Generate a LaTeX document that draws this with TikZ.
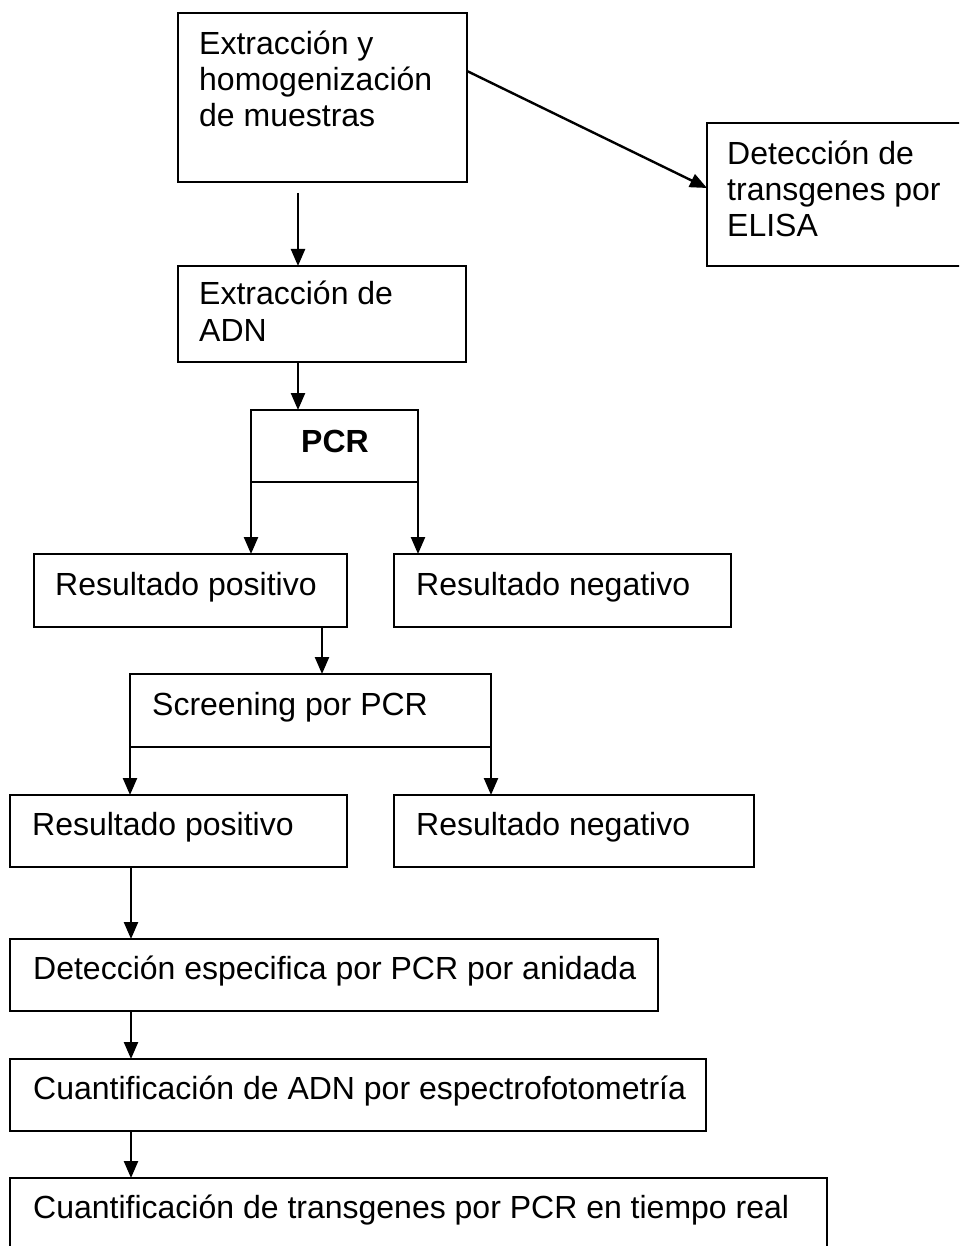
\documentclass[tikz,border=0pt]{standalone}
\usepackage{fontspec}
\setmainfont{Liberation Sans}
\usetikzlibrary{arrows.meta,calc}
\begin{document}
\begin{tikzpicture}[x=1pt,y=-1pt,
  box/.style={draw, line width=2.2pt, inner sep=0pt, outer sep=0pt, anchor=north west},
  lbl/.style={inner sep=0pt, anchor=base west, font=\fontsize{32pt}{36pt}\selectfont},
  arr/.style={line width=2.4pt, -{Triangle[length=17pt,width=14pt]}}]
\useasboundingbox (0,0) rectangle (959,1246);
\clip (0,0) rectangle (959,1246);
% boxes
\node[box, minimum width=289pt, minimum height=169pt] (b1) at (178,13) {};
\node[box, minimum width=280pt, minimum height=143pt] (b2) at (707,123) {};
\node[box, minimum width=288pt, minimum height=96pt] (b3) at (178,266) {};
\node[box, minimum width=167pt, minimum height=72pt] (pcr) at (251,410) {};
\node[box, minimum width=313pt, minimum height=73pt] (pos1) at (34,554) {};
\node[box, minimum width=337pt, minimum height=73pt] (neg1) at (394,554) {};
\node[box, minimum width=361pt, minimum height=73pt] (scr) at (130,674) {};
\node[box, minimum width=337pt, minimum height=72pt] (pos2) at (10,795) {};
\node[box, minimum width=360pt, minimum height=72pt] (neg2) at (394,795) {};
\node[box, minimum width=648pt, minimum height=72pt] (b10) at (10,939) {};
\node[box, minimum width=696pt, minimum height=72pt] (b11) at (10,1059) {};
\node[box, minimum width=817pt, minimum height=100pt] (b12) at (10,1178) {};
% texts
\node[lbl] (t1a) at (199,55) {Extracción y};
\node[lbl] (t1b) at (199,91) {homogenización};
\node[lbl] (t1c) at (199,127) {de muestras};
\node[lbl] (t2a) at (727,165) {Detección de};
\node[lbl] (t2b) at (727,201) {transgenes por};
\node[lbl] (t2c) at (727,237) {ELISA};
\node[lbl] (t3a) at (199,305) {Extracción de};
\node[lbl] (t3b) at (199,341) {ADN};
\node[lbl, anchor=base, font=\fontsize{32pt}{36pt}\selectfont\bfseries] (tpcr) at (335,452) {PCR};
\node[lbl] (tpos1) at (55,595) {Resultado positivo};
\node[lbl] (tneg1) at (416,595) {Resultado negativo};
\node[lbl] (tscr) at (152,715) {Screening por PCR};
\node[lbl] (tpos2) at (32,835) {Resultado positivo};
\node[lbl] (tneg2) at (416,835) {Resultado negativo};
\node[lbl] (t10) at (33,979) {Detección especifica por PCR por anidada};
\node[lbl] (t11) at (33,1099) {Cuantificación de ADN por espectrofotometría};
\node[lbl] (t12) at (33,1218) {Cuantificación de transgenes por PCR en tiempo real};
% connectors
\draw[arr] ($(b1.south west)+(120,11)$) -- ($(b3.north west)+(120,0)$);
\draw[arr] ($(b1.north east)+(0,58)$) -- ($(b2.north west)+(0,65)$);
\draw[arr] ($(b3.south west)+(120,0)$) -- ($(pcr.north west)+(47,0)$);
\draw[arr] (pcr.south west) -- ($(pos1.north west)+(217,0)$);
\draw[arr] (pcr.south east) -- ($(neg1.north west)+(24,0)$);
\draw[arr] ($(pos1.south west)+(288,0)$) -- ($(scr.north west)+(192,0)$);
\draw[arr] (scr.south west) -- ($(pos2.north west)+(120,0)$);
\draw[arr] (scr.south east) -- ($(neg2.north west)+(97,0)$);
\draw[arr] ($(pos2.south west)+(121,0)$) -- ($(b10.north west)+(121,0)$);
\draw[arr] ($(b10.south west)+(121,0)$) -- ($(b11.north west)+(121,0)$);
\draw[arr] ($(b11.south west)+(121,0)$) -- ($(b12.north west)+(121,0)$);
\end{tikzpicture}
\end{document}
